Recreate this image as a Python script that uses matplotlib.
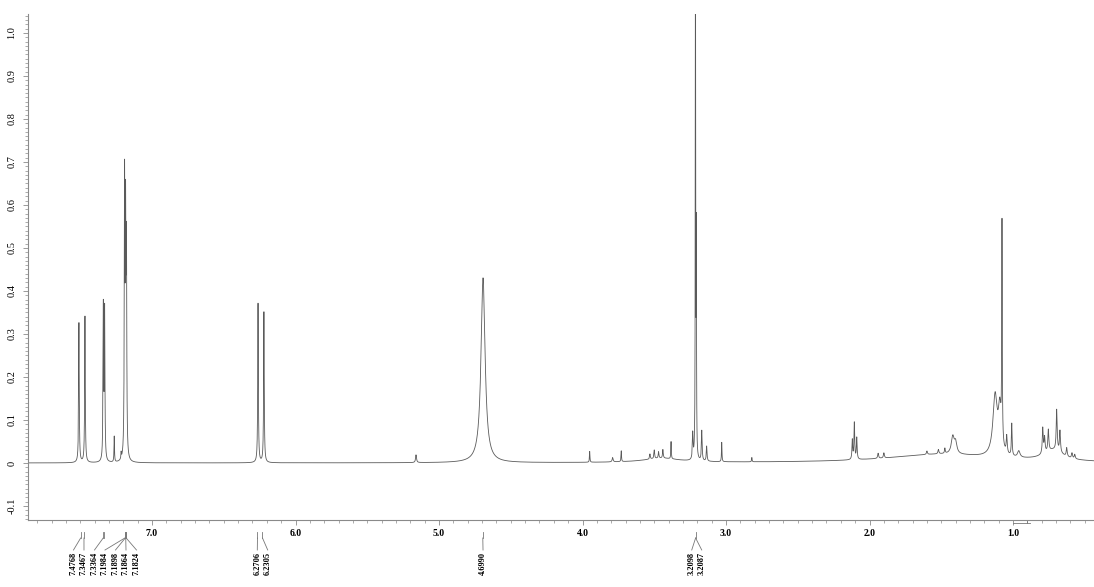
import numpy as np
import matplotlib
matplotlib.use("Agg")
import matplotlib.pyplot as plt
from matplotlib.ticker import MultipleLocator

# ---------------- data ----------------
# resonances: position (ppm), height, half width (ppm)
peak_ppm = [7.509, 7.467, 7.339, 7.330, 7.263, 7.215, 7.191, 7.184, 7.178,
            6.261, 6.220, 5.160, 4.693,
            3.950, 3.790, 3.730, 3.530, 3.500, 3.470, 3.440, 3.383,
            3.232, 3.213, 3.207, 3.169, 3.135, 3.030, 2.820,
            2.120, 2.106, 2.089, 1.940, 1.900, 1.600, 1.520, 1.475,
            1.420, 1.400, 1.125, 1.092, 1.077, 1.044, 1.009, 0.960,
            0.793, 0.780, 0.754, 0.696, 0.673, 0.626, 0.589, 0.570,
            1.500, 0.720, 3.450]
peak_height = [0.325, 0.34, 0.355, 0.345, 0.06, 0.015, 0.63, 0.52, 0.46,
               0.37, 0.35, 0.018, 0.43,
               0.025, 0.010, 0.025, 0.012, 0.020, 0.015, 0.020, 0.040,
               0.060, 1.30, 0.50, 0.070, 0.035, 0.045, 0.010,
               0.045, 0.085, 0.050, 0.012, 0.012, 0.008, 0.010, 0.012,
               0.040, 0.025, 0.140, 0.100, 0.500, 0.040, 0.075, 0.015,
               0.060, 0.035, 0.050, 0.095, 0.050, 0.020, 0.012, 0.010,
               0.020, 0.025, 0.010]
peak_width = [0.0025, 0.0025, 0.0025, 0.0025, 0.002, 0.002, 0.0025, 0.0025, 0.0025,
              0.0025, 0.0025, 0.004, 0.017,
              0.002, 0.004, 0.002, 0.003, 0.003, 0.003, 0.003, 0.002,
              0.003, 0.0015, 0.0015, 0.003, 0.003, 0.002, 0.002,
              0.003, 0.003, 0.003, 0.004, 0.004, 0.004, 0.004, 0.003,
              0.012, 0.010, 0.018, 0.012, 0.002, 0.004, 0.003, 0.010,
              0.004, 0.004, 0.004, 0.004, 0.004, 0.004, 0.004, 0.004,
              0.450, 0.080, 0.150]

# peak-pick annotations: label text and the ppm of the peak it marks
label_text = ["7.4768", "7.3467", "7.3364", "7.1984", "7.1898", "7.1864", "7.1824",
              "6.2706", "6.2305", "4.6990", "3.2098", "3.2087"]
label_tick_ppm = [7.497, 7.474, 7.340, 7.189, 7.186, 7.183, 7.180,
                  6.265, 6.230, 4.695, 3.212, 3.212]

x_ticks = [7.0, 6.0, 5.0, 4.0, 3.0, 2.0, 1.0]
y_ticks = [-0.1, 0.0, 0.1, 0.2, 0.3, 0.4, 0.5, 0.6, 0.7, 0.8, 0.9, 1.0]
y_tick_labels = ["-0.1", "0", "0.1", "0.2", "0.3", "0.4", "0.5", "0.6", "0.7",
                 "0.8", "0.9", "1.0"]

# ---------------- figure ----------------
plt.rcParams['font.family'] = ['Liberation Serif', 'DejaVu Serif']
fig = plt.figure(figsize=(10.94, 5.87), dpi=100)
ax = fig.add_axes([28 / 1094, 67 / 587, 1 - 28 / 1094, 506 / 587])

ppm = np.linspace(0.436, 7.864, 60000)
spec = np.zeros_like(ppm)
for p, h, w in zip(peak_ppm, peak_height, peak_width):
    spec += h * w * w / ((ppm - p) ** 2 + w * w)

ax.plot(ppm, spec, color='#5a5a5a', lw=0.6)
ax.set_xlim(7.864, 0.436)
ax.set_ylim(-0.1326, 1.044)

for s in ['top', 'right']:
    ax.spines[s].set_visible(False)
for s in ['left', 'bottom']:
    ax.spines[s].set_color('#8a8a8a')
    ax.spines[s].set_linewidth(0.8)

ax.set_xticks(x_ticks)
ax.set_xticklabels([f"{t:.1f}" for t in x_ticks], fontsize=7, fontweight='bold')
ax.xaxis.set_minor_locator(MultipleLocator(0.1))
ax.set_yticks(y_ticks)
ax.set_yticklabels(y_tick_labels, fontsize=7.5, rotation=90, va='center')
ax.yaxis.set_minor_locator(MultipleLocator(0.01))
ax.tick_params(axis='both', which='major', length=3.5, width=0.6, color='#8a8a8a', pad=3)
ax.tick_params(axis='both', which='minor', length=2, width=0.5, color='#8a8a8a')
ax.tick_params(axis='y', pad=5)

# ---------------- peak-pick annotations ----------------
tr = ax.get_xaxis_transform()
px_per_ppm = 143.5
ax_h = 506.0
lc = '#777777'


def fy(pix):  # pixel offset below axis -> axes fraction
    return -pix / ax_h


def px2ppm(xp):
    return 7.0 + (152 - xp) / px_per_ppm


# label x-positions (pixels) of the rotated texts
label_px = [73.5, 84.0, 94.5, 105.0, 115.5, 126.0, 136.5,
            257.3, 267.7, 483.0, 691.7, 701.7]

drawn = set()
for i, txt in enumerate(label_text):
    t = label_tick_ppm[i]
    lx = px2ppm(label_px[i])
    if t not in drawn:
        ax.plot([t, t], [fy(12), fy(18)], transform=tr, color=lc, lw=0.6, clip_on=False)
        drawn.add(t)
    ax.plot([t, lx], [fy(18), fy(30)], transform=tr, color=lc, lw=0.6, clip_on=False)
    ax.text(lx, fy(32), txt, transform=tr, rotation=90, ha='center', va='top',
            fontsize=6, fontweight='bold', clip_on=False)

# extra tick at the second line of the 7.33 doublet
ax.plot([7.332, 7.332], [fy(12), fy(18)], transform=tr, color=lc, lw=0.6, clip_on=False)

# small integral marker near 1.0 ppm
ax.plot([1.0, 0.88], [fy(3), fy(3)], transform=tr, color=lc, lw=0.6, clip_on=False)
ax.plot([0.90, 0.90], [fy(1), fy(3)], transform=tr, color=lc, lw=0.6, clip_on=False)

fig.savefig("out.png", dpi=100)
